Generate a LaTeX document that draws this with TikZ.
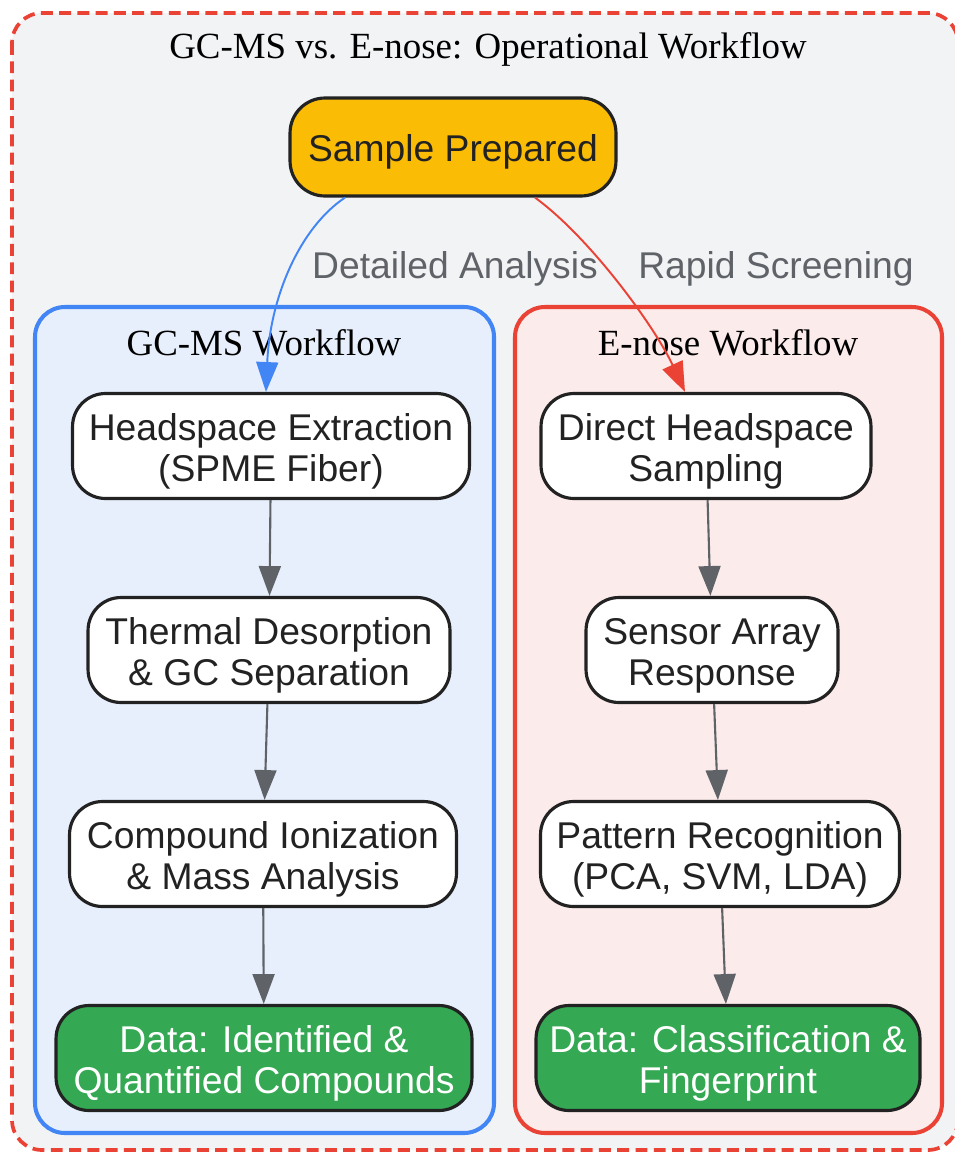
\documentclass[tikz,border=0pt]{standalone}
\usepackage{xcolor}
\usepackage{fontspec}
\setmainfont{Liberation Serif}
\setsansfont{Liberation Sans}
\usepackage{tikz}
\usetikzlibrary{arrows.meta}

\definecolor{canvasgray}{HTML}{F2F3F5}
\definecolor{alertred}{HTML}{EA4335}
\definecolor{gcblue}{HTML}{4285F4}
\definecolor{gcfill}{HTML}{E8EFFC}
\definecolor{enosefill}{HTML}{FBEBEA}
\definecolor{sampleyellow}{HTML}{FBBC05}
\definecolor{datagreen}{HTML}{34A853}
\definecolor{nodeedge}{HTML}{222222}
\definecolor{flowgray}{HTML}{5F6368}

\tikzset{
	stepnode/.style={draw=nodeedge, line width=1.8pt, fill=white, rounded corners=0.66cm,
		align=center, inner sep=0pt, minimum height=2.1cm, text=nodeedge,
		font=\sffamily\fontsize{21.2}{23.3}\selectfont,
		text height=44.4pt, text depth=4.5pt},
	datanode/.style={stepnode, fill=datagreen, text=white},
	flow/.style={draw=flowgray, line width=1.2pt, -{Triangle[length=17pt, width=12.5pt]}},
	routelabel/.style={text=flowgray, font=\sffamily\fontsize{21.2}{24}\selectfont},
	boxtitle/.style={font=\fontsize{21}{24}\selectfont}
}

\begin{document}
\begin{tikzpicture}[x=0.02cm, y=-0.02cm]
	\useasboundingbox (0,0) rectangle (954,1153);
	
	% outer frame
	\draw[alertred, fill=canvasgray, line width=2.1pt, dash pattern=on 6.8pt off 3.6pt, rounded corners=0.6cm] (12,13) rectangle (958,1150);
	\node[boxtitle] (maintitle) at (488,49) {GC-MS vs. E-nose: Operational Workflow};
	
	% the two workflows
	\draw[gcblue, fill=gcfill, line width=2.3pt, rounded corners=0.6cm] (35,307) rectangle (494,1133);
	\draw[alertred, fill=enosefill, line width=2.3pt, rounded corners=0.6cm] (515,307) rectangle (942,1133);
	\node[boxtitle] (gctitle) at (264,343) {GC-MS Workflow};
	\node[boxtitle] (enosetitle) at (728,343) {E-nose Workflow};
	
	\node[stepnode, fill=sampleyellow, minimum width=6.52cm, minimum height=1.96cm, rounded corners=0.7cm, text height=21pt] (sample) at (453,147) {Sample Prepared};
	
	\node[stepnode, minimum width=7.94cm] (head) at (271,446) {Headspace Extraction\\(SPME Fiber)};
	\node[stepnode, minimum width=7.24cm] (therm) at (269,650) {Thermal Desorption\\\& GC Separation};
	\node[stepnode, minimum width=7.74cm] (ion) at (263,854) {Compound Ionization\\\& Mass Analysis};
	\node[datanode, minimum width=8.32cm] (gcdata) at (264,1058) {Data: Identified \&\\Quantified Compounds};
	
	\node[stepnode, minimum width=6.6cm] (direct) at (706,446) {Direct Headspace\\Sampling};
	\node[stepnode, minimum width=5.04cm] (sensor) at (712,650) {Sensor Array\\Response};
	\node[stepnode, minimum width=7.18cm] (pattern) at (720,854) {Pattern Recognition\\(PCA, SVM, LDA)};
	\node[datanode, minimum width=7.68cm] (endata) at (728,1058) {Data: Classification \&\\Fingerprint};
	
	\draw[flow, draw=gcblue, line width=1.1pt] ([xshift=-2.16cm]sample.south) .. controls +(-45,30) and +(4,-95) .. ([xshift=-0.1cm]head.north);
	\draw[flow, draw=alertred, line width=1.1pt] ([xshift=1.64cm]sample.south) .. controls +(55,40) and +(-30,-65) .. ([xshift=-0.42cm]direct.north);
	
	\node[routelabel] (detailed) at (455,269) {Detailed Analysis};
	\node[routelabel] (rapid) at (776,269) {Rapid Screening};
	
	\draw[flow] (head) -- (therm);
	\draw[flow] (therm) -- (ion);
	\draw[flow] (ion) -- (gcdata);
	\draw[flow] (direct) -- (sensor);
	\draw[flow] (sensor) -- (pattern);
	\draw[flow] (pattern) -- (endata);
	
\end{tikzpicture}
\end{document}
